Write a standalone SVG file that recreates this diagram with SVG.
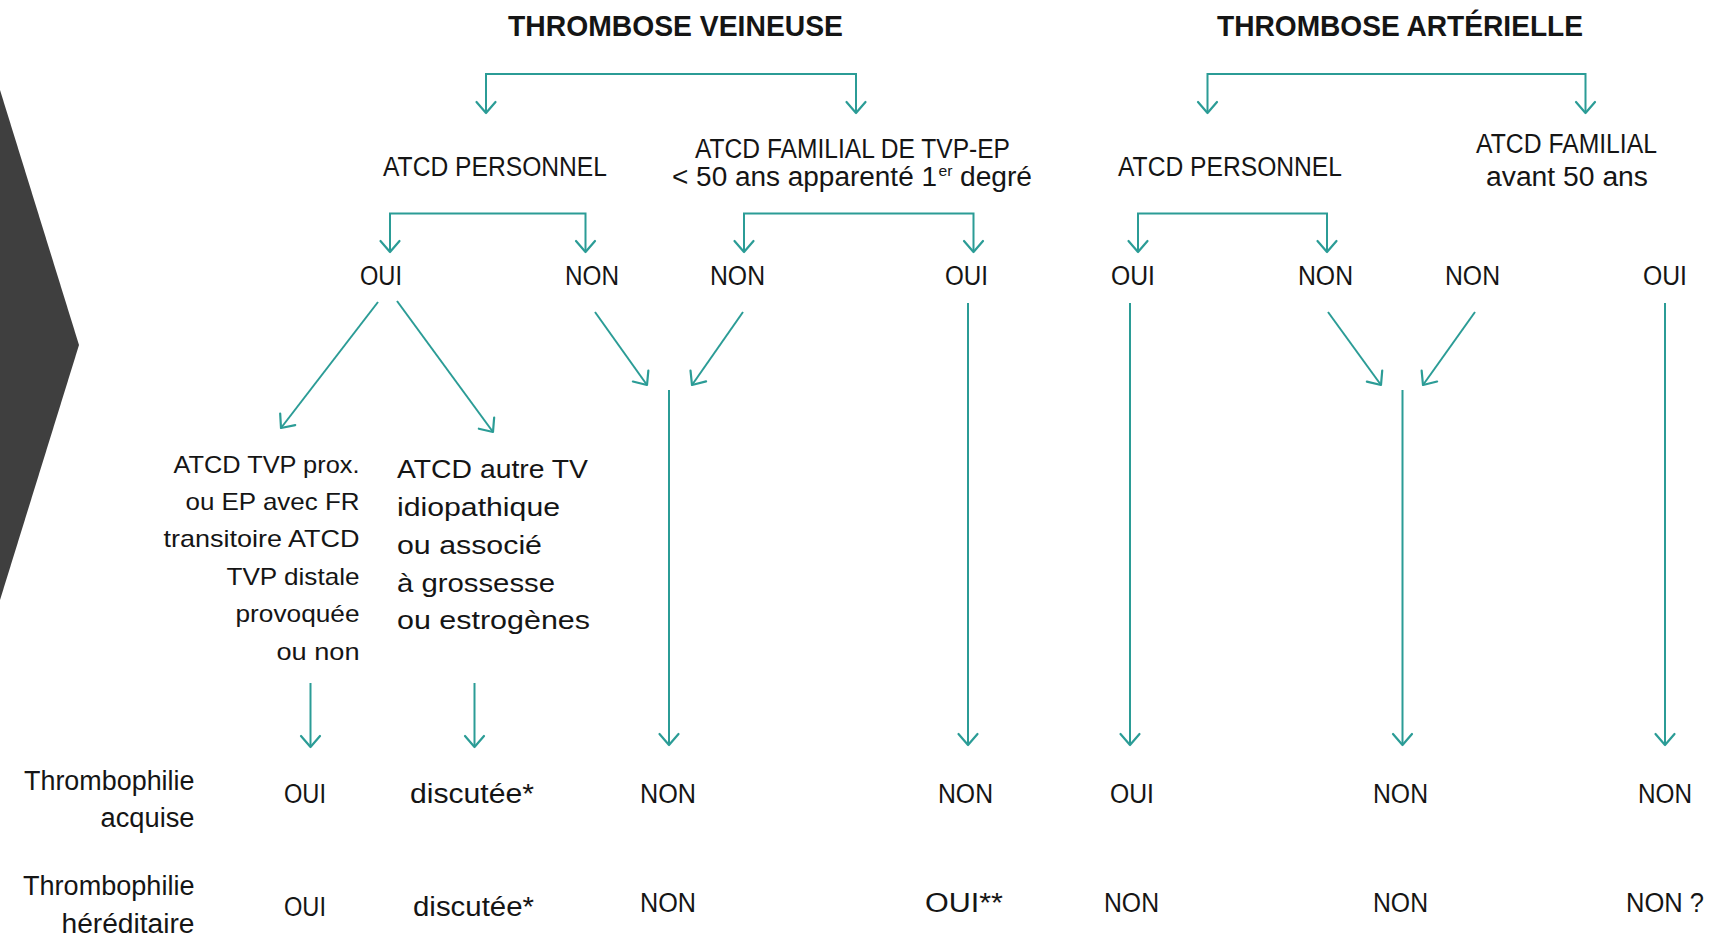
<svg xmlns="http://www.w3.org/2000/svg" width="1721" height="937" viewBox="0 0 1721 937">
<defs>
<style>
.t{font-family:"Liberation Sans",Arial,sans-serif;fill:#151515}
.ti{font-size:30px;font-weight:bold}
.lb{font-size:27px}
.bk{font-size:24px}
.rb{font-size:26px}
.c{fill:none;stroke:#2b9c96;stroke-width:2}
</style>
<marker id="ah" markerUnits="userSpaceOnUse" markerWidth="30" markerHeight="30" viewBox="-15 -15 30 30" refX="0" refY="0" orient="auto-start-reverse">
<path d="M-11,-9.5 L0,0 L-11,9.5" fill="none" stroke="#2b9c96" stroke-width="2.2" stroke-linecap="round" stroke-linejoin="round"/>
</marker>
</defs>
<rect width="1721" height="937" fill="#ffffff"/>
<polygon points="0,90 79,345 0,600" fill="#3f3f3f"/>

<g id="connectors">
<path class="c" d="M486,113 V74 H856 V113" marker-start="url(#ah)" marker-end="url(#ah)"/>
<path class="c" d="M1207.5,113 V74 H1585.5 V113" marker-start="url(#ah)" marker-end="url(#ah)"/>
<path class="c" d="M390,252 V213.5 H585.5 V252" marker-start="url(#ah)" marker-end="url(#ah)"/>
<path class="c" d="M744,252 V213.5 H973.5 V252" marker-start="url(#ah)" marker-end="url(#ah)"/>
<path class="c" d="M1138,252 V213.5 H1327 V252" marker-start="url(#ah)" marker-end="url(#ah)"/>
<path class="c" d="M378,302 L281,428" marker-end="url(#ah)"/>
<path class="c" d="M397,301 L493,432" marker-end="url(#ah)"/>
<path class="c" d="M595,312 L647,385" marker-end="url(#ah)"/>
<path class="c" d="M743,312 L692,385" marker-end="url(#ah)"/>
<path class="c" d="M669,390 V745" marker-end="url(#ah)"/>
<path class="c" d="M968,303 V745" marker-end="url(#ah)"/>
<path class="c" d="M1130,303 V745" marker-end="url(#ah)"/>
<path class="c" d="M1328,312 L1381,385" marker-end="url(#ah)"/>
<path class="c" d="M1475,312 L1423,385" marker-end="url(#ah)"/>
<path class="c" d="M1402.5,390 V745" marker-end="url(#ah)"/>
<path class="c" d="M1665,303 V745" marker-end="url(#ah)"/>
<path class="c" d="M310.5,683 V747" marker-end="url(#ah)"/>
<path class="c" d="M474.5,683 V747" marker-end="url(#ah)"/>
</g>

<g id="title-veineuse"><text class="t ti" x="508" y="36" textLength="335" lengthAdjust="spacingAndGlyphs">THROMBOSE VEINEUSE</text></g>
<g id="title-arterielle"><text class="t ti" x="1217" y="36" textLength="366" lengthAdjust="spacingAndGlyphs">THROMBOSE ARTÉRIELLE</text></g>

<g id="v-atcd-perso"><text class="t lb" x="383" y="176" textLength="224" lengthAdjust="spacingAndGlyphs">ATCD PERSONNEL</text></g>
<g id="v-atcd-fam">
<text class="t lb" x="695" y="158" textLength="315" lengthAdjust="spacingAndGlyphs">ATCD FAMILIAL DE TVP-EP</text>
<text class="t lb" x="672" y="186" textLength="265" lengthAdjust="spacingAndGlyphs">&lt; 50 ans apparenté 1</text>
<text class="t" x="938.5" y="176" font-size="15" textLength="14" lengthAdjust="spacingAndGlyphs">er</text>
<text class="t lb" x="960" y="186" textLength="72" lengthAdjust="spacingAndGlyphs">degré</text>
</g>
<g id="a-atcd-perso"><text class="t lb" x="1118" y="176" textLength="224" lengthAdjust="spacingAndGlyphs">ATCD PERSONNEL</text></g>
<g id="a-atcd-fam">
<text class="t lb" x="1476" y="153" textLength="181" lengthAdjust="spacingAndGlyphs">ATCD FAMILIAL</text>
<text class="t lb" x="1486" y="186" textLength="162" lengthAdjust="spacingAndGlyphs">avant 50 ans</text>
</g>

<g id="v-perso-oui"><text class="t lb" x="360" y="285" textLength="42" lengthAdjust="spacingAndGlyphs">OUI</text></g>
<g id="v-perso-non"><text class="t lb" x="565" y="285" textLength="54" lengthAdjust="spacingAndGlyphs">NON</text></g>
<g id="v-fam-non"><text class="t lb" x="710" y="285" textLength="55" lengthAdjust="spacingAndGlyphs">NON</text></g>
<g id="v-fam-oui"><text class="t lb" x="945" y="285" textLength="43" lengthAdjust="spacingAndGlyphs">OUI</text></g>
<g id="a-perso-oui"><text class="t lb" x="1111" y="285" textLength="44" lengthAdjust="spacingAndGlyphs">OUI</text></g>
<g id="a-perso-non"><text class="t lb" x="1298" y="285" textLength="55" lengthAdjust="spacingAndGlyphs">NON</text></g>
<g id="a-fam-non"><text class="t lb" x="1445" y="285" textLength="55" lengthAdjust="spacingAndGlyphs">NON</text></g>
<g id="a-fam-oui"><text class="t lb" x="1643" y="285" textLength="44" lengthAdjust="spacingAndGlyphs">OUI</text></g>

<g id="block-left">
<text class="t bk" x="173.5" y="473" textLength="186" lengthAdjust="spacingAndGlyphs">ATCD TVP prox.</text>
<text class="t bk" x="185.5" y="510" textLength="174" lengthAdjust="spacingAndGlyphs">ou EP avec FR</text>
<text class="t bk" x="163.5" y="547" textLength="196" lengthAdjust="spacingAndGlyphs">transitoire ATCD</text>
<text class="t bk" x="226.5" y="585" textLength="133" lengthAdjust="spacingAndGlyphs">TVP distale</text>
<text class="t bk" x="235.5" y="622" textLength="124" lengthAdjust="spacingAndGlyphs">provoquée</text>
<text class="t bk" x="276.5" y="660" textLength="83" lengthAdjust="spacingAndGlyphs">ou non</text>
</g>
<g id="block-right">
<text class="t rb" x="397" y="478" textLength="191" lengthAdjust="spacingAndGlyphs">ATCD autre TV</text>
<text class="t rb" x="397" y="516" textLength="163" lengthAdjust="spacingAndGlyphs">idiopathique</text>
<text class="t rb" x="397" y="554" textLength="145" lengthAdjust="spacingAndGlyphs">ou associé</text>
<text class="t rb" x="397" y="592" textLength="158" lengthAdjust="spacingAndGlyphs">à grossesse</text>
<text class="t rb" x="397" y="629" textLength="193" lengthAdjust="spacingAndGlyphs">ou estrogènes</text>
</g>

<g id="row-acquise">
<text class="t lb" x="24" y="790" textLength="170.5" lengthAdjust="spacingAndGlyphs">Thrombophilie</text>
<text class="t lb" x="100.5" y="827" textLength="94" lengthAdjust="spacingAndGlyphs">acquise</text>
</g>
<g id="row-hereditaire">
<text class="t lb" x="23" y="895" textLength="171.5" lengthAdjust="spacingAndGlyphs">Thrombophilie</text>
<text class="t lb" x="61.5" y="933" textLength="133" lengthAdjust="spacingAndGlyphs">héréditaire</text>
</g>

<g id="res-acquise">
<text class="t lb" x="284" y="803" textLength="42" lengthAdjust="spacingAndGlyphs">OUI</text>
<text class="t lb" x="410" y="803" textLength="124" lengthAdjust="spacingAndGlyphs">discutée*</text>
<text class="t lb" x="640" y="803" textLength="56" lengthAdjust="spacingAndGlyphs">NON</text>
<text class="t lb" x="938" y="803" textLength="55" lengthAdjust="spacingAndGlyphs">NON</text>
<text class="t lb" x="1110" y="803" textLength="44" lengthAdjust="spacingAndGlyphs">OUI</text>
<text class="t lb" x="1373" y="803" textLength="55" lengthAdjust="spacingAndGlyphs">NON</text>
<text class="t lb" x="1638" y="803" textLength="54" lengthAdjust="spacingAndGlyphs">NON</text>
</g>
<g id="res-hereditaire">
<text class="t lb" x="284" y="916" textLength="42" lengthAdjust="spacingAndGlyphs">OUI</text>
<text class="t lb" x="413" y="916" textLength="121" lengthAdjust="spacingAndGlyphs">discutée*</text>
<text class="t lb" x="640" y="912" textLength="56" lengthAdjust="spacingAndGlyphs">NON</text>
<text class="t lb" x="925" y="912" textLength="78" lengthAdjust="spacingAndGlyphs">OUI**</text>
<text class="t lb" x="1104" y="912" textLength="55" lengthAdjust="spacingAndGlyphs">NON</text>
<text class="t lb" x="1373" y="912" textLength="55" lengthAdjust="spacingAndGlyphs">NON</text>
<text class="t lb" x="1626" y="912" textLength="78" lengthAdjust="spacingAndGlyphs">NON ?</text>
</g>
</svg>
